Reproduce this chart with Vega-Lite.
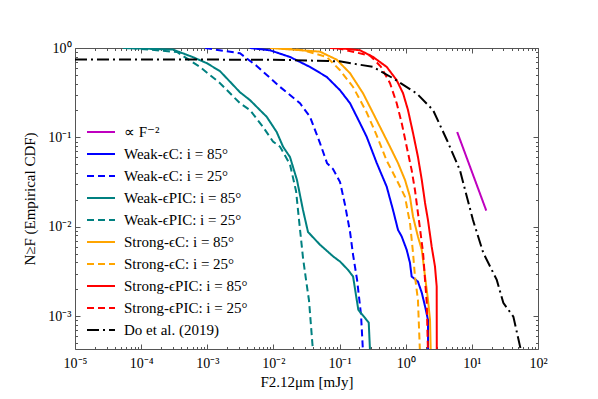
{
  "$schema": "https://vega.github.io/schema/vega-lite/v6.json",
  "autosize": {"type": "none"},
  "padding": {"left": 75, "top": 48, "right": 60, "bottom": 50},
  "width": 463,
  "height": 301,
  "background": "white",
  "config": {
    "view": {"stroke": null},
    "font": "Liberation Serif",
    "axis": {"labelFont": "Liberation Serif", "titleFont": "Liberation Serif", "labelColor": "#000", "titleColor": "#000", "domainColor": "#555", "tickColor": "#555", "grid": false, "titleFontWeight": "normal"},
    "legend": {"labelFont": "Liberation Serif"}
  },
  "data": {"values": [
    {"s": "∝ F⁻²", "F": 6, "N": 0.115},
    {"s": "∝ F⁻²", "F": 16.5, "N": 0.0152},

    {"s": "Weak-ϵC: i = 85°", "F": 0.0044, "N": 1},
    {"s": "Weak-ϵC: i = 85°", "F": 0.00887, "N": 0.943},
    {"s": "Weak-ϵC: i = 85°", "F": 0.0178, "N": 0.794},
    {"s": "Weak-ϵC: i = 85°", "F": 0.0357, "N": 0.614},
    {"s": "Weak-ϵC: i = 85°", "F": 0.0639, "N": 0.475},
    {"s": "Weak-ϵC: i = 85°", "F": 0.1016, "N": 0.337},
    {"s": "Weak-ϵC: i = 85°", "F": 0.144, "N": 0.241},
    {"s": "Weak-ϵC: i = 85°", "F": 0.204, "N": 0.144},
    {"s": "Weak-ϵC: i = 85°", "F": 0.257, "N": 0.1016},
    {"s": "Weak-ϵC: i = 85°", "F": 0.365, "N": 0.0516},
    {"s": "Weak-ϵC: i = 85°", "F": 0.516, "N": 0.0281},
    {"s": "Weak-ϵC: i = 85°", "F": 0.643, "N": 0.0154},
    {"s": "Weak-ϵC: i = 85°", "F": 0.765, "N": 0.00923},
    {"s": "Weak-ϵC: i = 85°", "F": 0.871, "N": 0.00778},
    {"s": "Weak-ϵC: i = 85°", "F": 1.035, "N": 0.00552},
    {"s": "Weak-ϵC: i = 85°", "F": 1.16, "N": 0.00395},
    {"s": "Weak-ϵC: i = 85°", "F": 1.23, "N": 0.00278},
    {"s": "Weak-ϵC: i = 85°", "F": 1.53, "N": 0.00244},
    {"s": "Weak-ϵC: i = 85°", "F": 1.75, "N": 0.00183},
    {"s": "Weak-ϵC: i = 85°", "F": 1.96, "N": 0.00129},
    {"s": "Weak-ϵC: i = 85°", "F": 2.17, "N": 0.000914},
    {"s": "Weak-ϵC: i = 85°", "F": 2.18, "N": 0.0004},

    {"s": "Weak-ϵC: i = 25°", "F": 0.000925, "N": 1},
    {"s": "Weak-ϵC: i = 25°", "F": 0.00312, "N": 0.873},
    {"s": "Weak-ϵC: i = 25°", "F": 0.00559, "N": 0.63},
    {"s": "Weak-ϵC: i = 25°", "F": 0.0126, "N": 0.367},
    {"s": "Weak-ϵC: i = 25°", "F": 0.0252, "N": 0.241},
    {"s": "Weak-ϵC: i = 25°", "F": 0.0357, "N": 0.17},
    {"s": "Weak-ϵC: i = 25°", "F": 0.0506, "N": 0.0863},
    {"s": "Weak-ϵC: i = 25°", "F": 0.0646, "N": 0.0516},
    {"s": "Weak-ϵC: i = 25°", "F": 0.0796, "N": 0.0443},
    {"s": "Weak-ϵC: i = 25°", "F": 0.1016, "N": 0.0317},
    {"s": "Weak-ϵC: i = 25°", "F": 0.121, "N": 0.01755},
    {"s": "Weak-ϵC: i = 25°", "F": 0.144, "N": 0.00877},
    {"s": "Weak-ϵC: i = 25°", "F": 0.16, "N": 0.00486},
    {"s": "Weak-ϵC: i = 25°", "F": 0.184, "N": 0.00255},
    {"s": "Weak-ϵC: i = 25°", "F": 0.211, "N": 0.00104},
    {"s": "Weak-ϵC: i = 25°", "F": 0.226, "N": 0.0004},

    {"s": "Weak-ϵPIC: i = 85°", "F": 0.000053, "N": 1},
    {"s": "Weak-ϵPIC: i = 85°", "F": 0.000303, "N": 0.96},
    {"s": "Weak-ϵPIC: i = 85°", "F": 0.000608, "N": 0.79},
    {"s": "Weak-ϵPIC: i = 85°", "F": 0.00099, "N": 0.675},
    {"s": "Weak-ϵPIC: i = 85°", "F": 0.00156, "N": 0.55},
    {"s": "Weak-ϵPIC: i = 85°", "F": 0.00312, "N": 0.32},
    {"s": "Weak-ϵPIC: i = 85°", "F": 0.00443, "N": 0.261},
    {"s": "Weak-ϵPIC: i = 85°", "F": 0.00791, "N": 0.17},
    {"s": "Weak-ϵPIC: i = 85°", "F": 0.0112, "N": 0.115},
    {"s": "Weak-ϵPIC: i = 85°", "F": 0.014, "N": 0.0785},
    {"s": "Weak-ϵPIC: i = 85°", "F": 0.0178, "N": 0.0603},
    {"s": "Weak-ϵPIC: i = 85°", "F": 0.0227, "N": 0.0334},
    {"s": "Weak-ϵPIC: i = 85°", "F": 0.028, "N": 0.0154},
    {"s": "Weak-ϵPIC: i = 85°", "F": 0.0333, "N": 0.00877},
    {"s": "Weak-ϵPIC: i = 85°", "F": 0.0506, "N": 0.0063},
    {"s": "Weak-ϵPIC: i = 85°", "F": 0.0805, "N": 0.00465},
    {"s": "Weak-ϵPIC: i = 85°", "F": 0.1016, "N": 0.00409},
    {"s": "Weak-ϵPIC: i = 85°", "F": 0.1346, "N": 0.00329},
    {"s": "Weak-ϵPIC: i = 85°", "F": 0.16, "N": 0.00278},
    {"s": "Weak-ϵPIC: i = 85°", "F": 0.192, "N": 0.00118},
    {"s": "Weak-ϵPIC: i = 85°", "F": 0.276, "N": 0.00085},
    {"s": "Weak-ϵPIC: i = 85°", "F": 0.289, "N": 0.0004},

    {"s": "Weak-ϵPIC: i = 25°", "F": 0.000068, "N": 1},
    {"s": "Weak-ϵPIC: i = 25°", "F": 0.000348, "N": 0.902},
    {"s": "Weak-ϵPIC: i = 25°", "F": 0.000776, "N": 0.614},
    {"s": "Weak-ϵPIC: i = 25°", "F": 0.00156, "N": 0.404},
    {"s": "Weak-ϵPIC: i = 25°", "F": 0.00312, "N": 0.241},
    {"s": "Weak-ϵPIC: i = 25°", "F": 0.00443, "N": 0.202},
    {"s": "Weak-ϵPIC: i = 25°", "F": 0.00695, "N": 0.131},
    {"s": "Weak-ϵPIC: i = 25°", "F": 0.00986, "N": 0.09},
    {"s": "Weak-ϵPIC: i = 25°", "F": 0.0126, "N": 0.0785},
    {"s": "Weak-ϵPIC: i = 25°", "F": 0.0178, "N": 0.05},
    {"s": "Weak-ϵPIC: i = 25°", "F": 0.022, "N": 0.025},
    {"s": "Weak-ϵPIC: i = 25°", "F": 0.0245, "N": 0.0115},
    {"s": "Weak-ϵPIC: i = 25°", "F": 0.028, "N": 0.0045},
    {"s": "Weak-ϵPIC: i = 25°", "F": 0.031, "N": 0.0026},
    {"s": "Weak-ϵPIC: i = 25°", "F": 0.0345, "N": 0.0015},
    {"s": "Weak-ϵPIC: i = 25°", "F": 0.0397, "N": 0.0004},

    {"s": "Strong-ϵC: i = 85°", "F": 0.0089, "N": 1},
    {"s": "Strong-ϵC: i = 85°", "F": 0.0506, "N": 0.91},
    {"s": "Strong-ϵC: i = 85°", "F": 0.0906, "N": 0.74},
    {"s": "Strong-ϵC: i = 85°", "F": 0.144, "N": 0.522},
    {"s": "Strong-ϵC: i = 85°", "F": 0.226, "N": 0.312},
    {"s": "Strong-ϵC: i = 85°", "F": 0.321, "N": 0.187},
    {"s": "Strong-ϵC: i = 85°", "F": 0.409, "N": 0.131},
    {"s": "Strong-ϵC: i = 85°", "F": 0.579, "N": 0.0785},
    {"s": "Strong-ϵC: i = 85°", "F": 0.765, "N": 0.0516},
    {"s": "Strong-ϵC: i = 85°", "F": 0.976, "N": 0.0334},
    {"s": "Strong-ϵC: i = 85°", "F": 1.16, "N": 0.0217},
    {"s": "Strong-ϵC: i = 85°", "F": 1.29, "N": 0.013},
    {"s": "Strong-ϵC: i = 85°", "F": 1.53, "N": 0.00778},
    {"s": "Strong-ϵC: i = 85°", "F": 1.75, "N": 0.00552},
    {"s": "Strong-ϵC: i = 85°", "F": 1.96, "N": 0.00278},
    {"s": "Strong-ϵC: i = 85°", "F": 2.17, "N": 0.00153},
    {"s": "Strong-ϵC: i = 85°", "F": 2.33, "N": 0.000914},
    {"s": "Strong-ϵC: i = 85°", "F": 2.39, "N": 0.0004},

    {"s": "Strong-ϵC: i = 25°", "F": 0.015, "N": 1},
    {"s": "Strong-ϵC: i = 25°", "F": 0.028, "N": 0.943},
    {"s": "Strong-ϵC: i = 25°", "F": 0.0639, "N": 0.794},
    {"s": "Strong-ϵC: i = 25°", "F": 0.1016, "N": 0.564},
    {"s": "Strong-ϵC: i = 25°", "F": 0.16, "N": 0.367},
    {"s": "Strong-ϵC: i = 25°", "F": 0.257, "N": 0.19},
    {"s": "Strong-ϵC: i = 25°", "F": 0.365, "N": 0.105},
    {"s": "Strong-ϵC: i = 25°", "F": 0.516, "N": 0.055},
    {"s": "Strong-ϵC: i = 25°", "F": 0.731, "N": 0.0334},
    {"s": "Strong-ϵC: i = 25°", "F": 0.976, "N": 0.0217},
    {"s": "Strong-ϵC: i = 25°", "F": 1.083, "N": 0.0143},
    {"s": "Strong-ϵC: i = 25°", "F": 1.16, "N": 0.0111},
    {"s": "Strong-ϵC: i = 25°", "F": 1.29, "N": 0.00511},
    {"s": "Strong-ϵC: i = 25°", "F": 1.38, "N": 0.00278},
    {"s": "Strong-ϵC: i = 25°", "F": 1.53, "N": 0.00153},
    {"s": "Strong-ϵC: i = 25°", "F": 1.64, "N": 0.0004},

    {"s": "Strong-ϵPIC: i = 85°", "F": 0.0716, "N": 1},
    {"s": "Strong-ϵPIC: i = 85°", "F": 0.113, "N": 0.985},
    {"s": "Strong-ϵPIC: i = 85°", "F": 0.204, "N": 0.943},
    {"s": "Strong-ϵPIC: i = 85°", "F": 0.321, "N": 0.794},
    {"s": "Strong-ϵPIC: i = 85°", "F": 0.516, "N": 0.614},
    {"s": "Strong-ϵPIC: i = 85°", "F": 0.731, "N": 0.436},
    {"s": "Strong-ϵPIC: i = 85°", "F": 0.911, "N": 0.312},
    {"s": "Strong-ϵPIC: i = 85°", "F": 1.083, "N": 0.202},
    {"s": "Strong-ϵPIC: i = 85°", "F": 1.29, "N": 0.112},
    {"s": "Strong-ϵPIC: i = 85°", "F": 1.53, "N": 0.0607},
    {"s": "Strong-ϵPIC: i = 85°", "F": 1.75, "N": 0.0334},
    {"s": "Strong-ϵPIC: i = 85°", "F": 1.96, "N": 0.0185},
    {"s": "Strong-ϵPIC: i = 85°", "F": 2.17, "N": 0.0119},
    {"s": "Strong-ϵPIC: i = 85°", "F": 2.47, "N": 0.006},
    {"s": "Strong-ϵPIC: i = 85°", "F": 2.77, "N": 0.0036},
    {"s": "Strong-ϵPIC: i = 85°", "F": 2.94, "N": 0.00215},
    {"s": "Strong-ϵPIC: i = 85°", "F": 2.95, "N": 0.0004},

    {"s": "Strong-ϵPIC: i = 25°", "F": 0.09, "N": 1},
    {"s": "Strong-ϵPIC: i = 25°", "F": 0.128, "N": 0.943},
    {"s": "Strong-ϵPIC: i = 25°", "F": 0.29, "N": 0.82},
    {"s": "Strong-ϵPIC: i = 25°", "F": 0.42, "N": 0.62},
    {"s": "Strong-ϵPIC: i = 25°", "F": 0.579, "N": 0.404},
    {"s": "Strong-ϵPIC: i = 25°", "F": 0.731, "N": 0.241},
    {"s": "Strong-ϵPIC: i = 25°", "F": 0.871, "N": 0.144},
    {"s": "Strong-ϵPIC: i = 25°", "F": 1.035, "N": 0.0785},
    {"s": "Strong-ϵPIC: i = 25°", "F": 1.23, "N": 0.0431},
    {"s": "Strong-ϵPIC: i = 25°", "F": 1.38, "N": 0.0258},
    {"s": "Strong-ϵPIC: i = 25°", "F": 1.53, "N": 0.0143},
    {"s": "Strong-ϵPIC: i = 25°", "F": 1.64, "N": 0.0097},
    {"s": "Strong-ϵPIC: i = 25°", "F": 1.83, "N": 0.00511},
    {"s": "Strong-ϵPIC: i = 25°", "F": 1.96, "N": 0.00255},
    {"s": "Strong-ϵPIC: i = 25°", "F": 2.08, "N": 0.00142},
    {"s": "Strong-ϵPIC: i = 25°", "F": 2.17, "N": 0.0004},

    {"s": "Do et al. (2019)", "F": 0.00001, "N": 0.745},
    {"s": "Do et al. (2019)", "F": 0.01, "N": 0.74},
    {"s": "Do et al. (2019)", "F": 0.1, "N": 0.71},
    {"s": "Do et al. (2019)", "F": 0.32, "N": 0.614},
    {"s": "Do et al. (2019)", "F": 0.64, "N": 0.46},
    {"s": "Do et al. (2019)", "F": 1.47, "N": 0.31},
    {"s": "Do et al. (2019)", "F": 2.59, "N": 0.202},
    {"s": "Do et al. (2019)", "F": 4.21, "N": 0.093},
    {"s": "Do et al. (2019)", "F": 6.6, "N": 0.043},
    {"s": "Do et al. (2019)", "F": 10.4, "N": 0.0119},
    {"s": "Do et al. (2019)", "F": 14.9, "N": 0.0051},
    {"s": "Do et al. (2019)", "F": 23.8, "N": 0.00255},
    {"s": "Do et al. (2019)", "F": 29.9, "N": 0.00141},
    {"s": "Do et al. (2019)", "F": 42.4, "N": 0.00099},
    {"s": "Do et al. (2019)", "F": 53.5, "N": 0.00046},
    {"s": "Do et al. (2019)", "F": 56, "N": 0.0004}
  ]},
  "resolve": {"axis": {"x": "independent", "y": "independent"}},
  "layer": [
    {
      "mark": {"type": "line", "strokeWidth": 2, "clip": true},
      "encoding": {
        "x": {"field": "F", "type": "quantitative",
          "scale": {"type": "log", "domain": [0.00001, 100], "nice": false},
          "axis": {"orient": "bottom", "values": [0.00001, 0.0001, 0.001, 0.01, 0.1, 1, 10, 100],
            "labelExpr": "'10' + (datum.value < 0.5 ? '⁻' : '') + ['⁰','¹','²','³','⁴','⁵','⁶','⁷','⁸','⁹'][abs(round(log(datum.value)/LN10))]",
            "tickSize": -5, "labelPadding": 12, "labelFontSize": 14, "labelFlush": false, "labelOverlap": false,
            "title": "F2.12μm [mJy]", "titleFontSize": 15, "titlePadding": 4}},
        "y": {"field": "N", "type": "quantitative",
          "scale": {"type": "log", "domain": [0.00043, 1], "nice": false},
          "axis": {"orient": "left", "values": [0.001, 0.01, 0.1, 1],
            "labelExpr": "'10' + (datum.value < 0.5 ? '⁻' : '') + ['⁰','¹','²','³','⁴','⁵','⁶','⁷','⁸','⁹'][abs(round(log(datum.value)/LN10))]",
            "tickSize": -5, "labelPadding": 9, "labelFontSize": 14, "labelFlush": false, "labelOverlap": false,
            "title": "N≥F (Empirical CDF)", "titleFontSize": 15, "titlePadding": 10}},
        "color": {"field": "s", "type": "nominal",
          "scale": {"domain": ["∝ F⁻²", "Weak-ϵC: i = 85°", "Weak-ϵC: i = 25°", "Weak-ϵPIC: i = 85°", "Weak-ϵPIC: i = 25°", "Strong-ϵC: i = 85°", "Strong-ϵC: i = 25°", "Strong-ϵPIC: i = 85°", "Strong-ϵPIC: i = 25°", "Do et al. (2019)"],
            "range": ["#bf00bf", "#0000ff", "#0000ff", "#008080", "#008080", "#ffa500", "#ffa500", "#ff0000", "#ff0000", "#000000"]},
          "legend": {"title": null, "orient": "none", "legendX": 11, "legendY": 73, "symbolType": "stroke", "symbolSize": 784, "symbolStrokeWidth": 2, "labelFontSize": 15, "labelOffset": 8, "rowPadding": 0, "clipHeight": 21.8, "labelColor": "#000"}},
        "strokeDash": {"field": "s", "type": "nominal",
          "scale": {"domain": ["∝ F⁻²", "Weak-ϵC: i = 85°", "Weak-ϵC: i = 25°", "Weak-ϵPIC: i = 85°", "Weak-ϵPIC: i = 25°", "Strong-ϵC: i = 85°", "Strong-ϵC: i = 25°", "Strong-ϵPIC: i = 85°", "Strong-ϵPIC: i = 25°", "Do et al. (2019)"],
            "range": [[1, 0], [1, 0], [7, 4], [1, 0], [7, 4], [1, 0], [7, 4], [1, 0], [7, 4], [12, 4, 2, 4]]},
          "legend": {"title": null, "orient": "none", "legendX": 11, "legendY": 73, "symbolType": "stroke", "symbolSize": 784, "symbolStrokeWidth": 2, "labelFontSize": 15, "labelOffset": 8, "rowPadding": 0, "clipHeight": 21.8, "labelColor": "#000"}},
        "order": {"field": "N", "sort": "descending"}
      }
    },
    {
      "mark": {"type": "point", "opacity": 0},
      "encoding": {
        "x": {"field": "F", "type": "quantitative", "axis": {"orient": "bottom", "values": [0.00002,0.00003,0.00004,0.00005,0.00006,0.00007,0.00008,0.00009,0.0002,0.0003,0.0004,0.0005,0.0006,0.0007,0.0008,0.0009,0.002,0.003,0.004,0.005,0.006,0.007,0.008,0.009,0.02,0.03,0.04,0.05,0.06,0.07,0.08,0.09,0.2,0.3,0.4,0.5,0.6,0.7,0.8,0.9,2,3,4,5,6,7,8,9,20,30,40,50,60,70,80,90], "labels": false, "domain": false, "tickSize": -2.5, "title": null}},
        "y": {"field": "N", "type": "quantitative", "axis": {"orient": "left", "values": [0.0005,0.0006,0.0007,0.0008,0.0009,0.002,0.003,0.004,0.005,0.006,0.007,0.008,0.009,0.02,0.03,0.04,0.05,0.06,0.07,0.08,0.09,0.2,0.3,0.4,0.5,0.6,0.7,0.8,0.9], "labels": false, "domain": false, "tickSize": -2.5, "title": null}}
      }
    },
    {
      "mark": {"type": "point", "opacity": 0},
      "encoding": {
        "x": {"field": "F", "type": "quantitative", "axis": {"orient": "top", "values": [0.00001, 0.0001, 0.001, 0.01, 0.1, 1, 10, 100], "labels": false, "tickSize": -5, "title": null}},
        "y": {"field": "N", "type": "quantitative", "axis": {"orient": "right", "values": [0.001, 0.01, 0.1, 1], "labels": false, "tickSize": -5, "title": null}}
      }
    },
    {
      "mark": {"type": "point", "opacity": 0},
      "encoding": {
        "x": {"field": "F", "type": "quantitative", "axis": {"orient": "top", "values": [0.00002,0.00003,0.00004,0.00005,0.00006,0.00007,0.00008,0.00009,0.0002,0.0003,0.0004,0.0005,0.0006,0.0007,0.0008,0.0009,0.002,0.003,0.004,0.005,0.006,0.007,0.008,0.009,0.02,0.03,0.04,0.05,0.06,0.07,0.08,0.09,0.2,0.3,0.4,0.5,0.6,0.7,0.8,0.9,2,3,4,5,6,7,8,9,20,30,40,50,60,70,80,90], "labels": false, "domain": false, "tickSize": -2.5, "title": null}},
        "y": {"field": "N", "type": "quantitative", "axis": {"orient": "right", "values": [0.0005,0.0006,0.0007,0.0008,0.0009,0.002,0.003,0.004,0.005,0.006,0.007,0.008,0.009,0.02,0.03,0.04,0.05,0.06,0.07,0.08,0.09,0.2,0.3,0.4,0.5,0.6,0.7,0.8,0.9], "labels": false, "domain": false, "tickSize": -2.5, "title": null}}
      }
    }
  ]
}
